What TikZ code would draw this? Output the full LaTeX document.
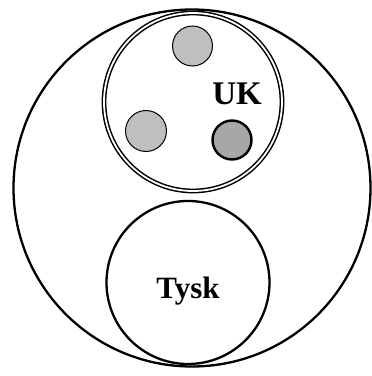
\documentclass[tikz,border=0pt]{standalone}
\usepackage{fontspec}
\setmainfont{Liberation Serif}
\begin{document}
\begin{tikzpicture}[x=1pt,y=1pt,
  ring/.style={circle, draw=black, inner sep=0pt, line width=2.3pt},
  dot/.style={circle, draw=black, inner sep=0pt, line width=1pt, fill=gray!50},
  darkdot/.style={circle, draw=black, inner sep=0pt, line width=2.4pt, fill=gray!70},
  lab/.style={inner sep=0pt, font=\bfseries\fontsize{33}{33}\selectfont}]
\useasboundingbox (0,0) rectangle (372,376);
\node[ring, minimum size=357pt] (outer) at (192,188) {};
\node[ring, minimum size=178pt, line width=1.5pt, double, double distance=1.8pt] (uk) at (193,274) {};
\node[ring, minimum size=163pt] (tysk) at (188,93.5) {};
\node[dot, minimum size=40pt] (d1) at (192.5,330) {};
\node[dot, minimum size=41pt] (d2) at (146,245) {};
\node[darkdot, minimum size=39pt] (d3) at (232,236) {};
\node[lab] (uklab) at (237,282) {UK};
\node[lab, font=\bfseries\fontsize{31}{31}\selectfont] (tysklab) at (188,85) {Tysk};
\end{tikzpicture}
\end{document}
